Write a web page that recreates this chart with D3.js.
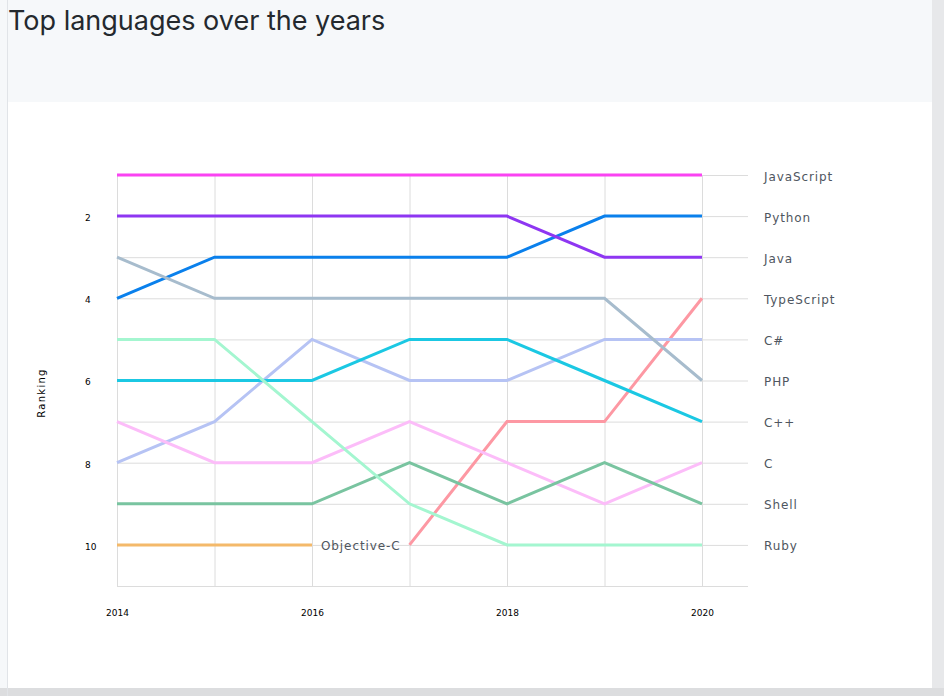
<!DOCTYPE html>
<html>
<head>
<meta charset="utf-8">
<script src="https://cdn.jsdelivr.net/npm/d3@7"></script>
<style>
  body { margin: 0; background: #f6f8fa; }
</style>
</head>
<body>
<script>
//Config
var years = [2014, 2015, 2016, 2017, 2018, 2019, 2020];
var languages = ["JavaScript", "Python", "Java", "TypeScript", "C#", "PHP", "C++", "C", "Shell", "Ruby", "Objective-C"];
// rank per year, null where the language is not in the top 10
var ranks = [
    [1, 1, 1, 1, 1, 1, 1],
    [4, 3, 3, 3, 3, 2, 2],
    [2, 2, 2, 2, 2, 3, 3],
    [null, null, null, 10, 7, 7, 4],
    [8, 7, 5, 6, 6, 5, 5],
    [3, 4, 4, 4, 4, 4, 6],
    [6, 6, 6, 5, 5, 6, 7],
    [7, 8, 8, 7, 8, 9, 8],
    [9, 9, 9, 8, 9, 8, 9],
    [5, 5, 7, 9, 10, 10, 10],
    [10, 10, 10, null, null, null, null]
];
var colors = ["#fa43f2", "#0a80ec", "#8e36f2", "#fd98a3", "#b6c3f4", "#a7bccd", "#1bc8e3", "#fcbdf9", "#79c4a0", "#a4f6d0", "#f4b96a"];
var yTicks = [2, 4, 6, 8, 10];
var xTicks = [2014, 2016, 2018, 2020];

var width = 944, height = 696;

var body = d3.select("body");

var svg = body.append("svg")
    .attr("width", width)
    .attr("height", height)
    .style("display", "block");

// page background + card
svg.append("rect").attr("width", width).attr("height", height).attr("fill", "#f6f8fa");
svg.append("rect").attr("x", 932).attr("y", 0).attr("width", 12).attr("height", height).attr("fill", "#e7e8ea");
svg.append("rect").attr("x", 0).attr("y", 688).attr("width", width).attr("height", 8).attr("fill", "#dcdddf");
svg.append("rect").attr("x", 7).attr("y", 0).attr("width", 1).attr("height", height).attr("fill", "#e1e4e8");
svg.append("rect").attr("x", 8).attr("y", 102).attr("width", 924).attr("height", 586).attr("fill", "#ffffff");

// title
svg.append("text")
    .attr("x", 8)
    .attr("y", 30)
    .style("font-family", "Inter, 'Noto Sans', sans-serif")
    .style("font-size", "27px")
    .style("fill", "#24292e")
    .text("Top languages over the years");

// scales
var x = d3.scaleLinear().domain([2014, 2020]).range([117, 702]);
var y = d3.scaleLinear().domain([1, 11]).range([175, 586]);

// grid
var grid = svg.append("g").attr("stroke", "#dcdcdc").attr("stroke-width", 1);
grid.selectAll("line.h")
    .data(d3.range(1, 12))
    .enter()
    .append("line")
    .attr("class", "h")
    .attr("x1", x(2014))
    .attr("x2", 748)
    .attr("y1", function(d) { return y(d) + 0.5; })
    .attr("y2", function(d) { return y(d) + 0.5; });
grid.selectAll("line.v")
    .data(years)
    .enter()
    .append("line")
    .attr("class", "v")
    .attr("x1", function(d) { return x(d) + 0.5; })
    .attr("x2", function(d) { return x(d) + 0.5; })
    .attr("y1", y(1))
    .attr("y2", y(11));

// axes
var tickFont = "'DejaVu Sans', sans-serif";
svg.append("g")
    .attr("transform", "translate(0," + (y(11) + 21) + ")")
    .call(d3.axisBottom(x).tickValues(xTicks).tickFormat(d3.format("d")).tickSize(0))
    .call(function(g) { g.select(".domain").remove(); })
    .selectAll("text")
    .style("font-family", tickFont)
    .style("font-size", "9px")
    .style("fill", "#000");

svg.append("g")
    .attr("transform", "translate(85,1.5)")
    .call(d3.axisLeft(y).tickValues(yTicks).tickSize(0))
    .call(function(g) { g.select(".domain").remove(); })
    .selectAll("text")
    .attr("x", 0)
    .attr("text-anchor", "start")
    .style("font-family", tickFont)
    .style("font-size", "9px")
    .style("fill", "#000");

svg.append("text")
    .attr("transform", "translate(45,393) rotate(-90)")
    .attr("text-anchor", "middle")
    .style("font-family", tickFont)
    .style("font-size", "10px")
    .style("letter-spacing", "1.3px")
    .style("fill", "#000")
    .text("Ranking");

// lines
var line = d3.line()
    .defined(function(d) { return d != null; })
    .x(function(d, i) { return x(years[i]); })
    .y(function(d) { return y(d); });

svg.append("g").selectAll("path")
    .data(ranks)
    .enter()
    .append("path")
    .attr("fill", "none")
    .attr("stroke", function(d, i) { return colors[i]; })
    .attr("stroke-width", 3)
    .attr("d", line);

// labels
var labelFont = "'DejaVu Sans', sans-serif";
svg.append("g").selectAll("text")
    .data(languages)
    .enter()
    .append("text")
    .attr("x", function(d, i) {
        var r = ranks[i];
        return r[6] != null ? 764 : x(2016) + 9;
    })
    .attr("y", function(d, i) {
        var r = ranks[i];
        var last = r[6] != null ? r[6] : r[2];
        return y(last) + 5.5;
    })
    .style("font-family", labelFont)
    .style("font-size", "12px")
    .style("letter-spacing", "0.9px")
    .style("fill", "#4f5660")
    .text(function(d) { return d; });
</script>
</body>
</html>
